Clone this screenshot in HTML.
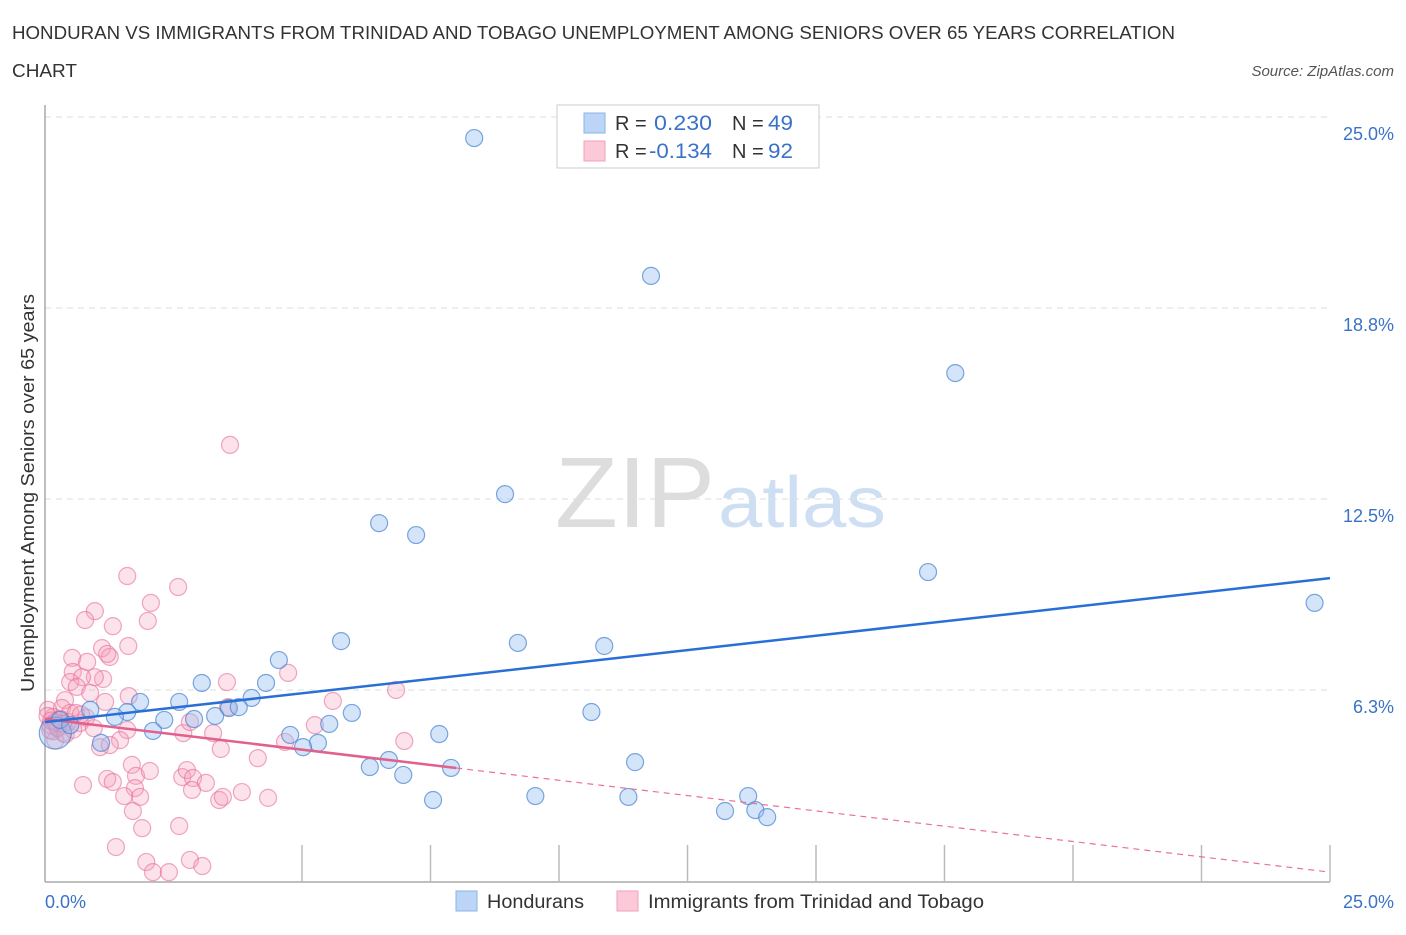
<!DOCTYPE html>
<html><head><meta charset="utf-8">
<style>
body{margin:0;background:#fff;font-family:"Liberation Sans",sans-serif;}
svg text{font-family:"Liberation Sans",sans-serif;}
</style></head>
<body>
<svg id="chart" width="1406" height="930" xmlns="http://www.w3.org/2000/svg">
<text x="12" y="39" font-size="18.5" fill="#333" textLength="1163" lengthAdjust="spacingAndGlyphs">HONDURAN VS IMMIGRANTS FROM TRINIDAD AND TOBAGO UNEMPLOYMENT AMONG SENIORS OVER 65 YEARS CORRELATION</text>
<text x="12" y="77" font-size="18.5" fill="#333" textLength="65" lengthAdjust="spacingAndGlyphs">CHART</text>
<text x="1394" y="76" font-size="15" fill="#555" text-anchor="end" font-style="italic">Source: ZipAtlas.com</text>
<g>
<text x="635" y="527" font-size="100" fill="#ddd" font-family="Liberation Serif" text-anchor="middle" textLength="160" lengthAdjust="spacingAndGlyphs">ZIP</text>
<text x="802" y="527" font-size="72" fill="#cfdff3" text-anchor="middle" textLength="168" lengthAdjust="spacingAndGlyphs">atlas</text>
</g>
<g id="grid"></g>
<g id="axes"></g>
<g id="marks"></g>
<text transform="translate(34,493) rotate(-90)" font-size="18" fill="#333" text-anchor="middle" textLength="398" lengthAdjust="spacingAndGlyphs">Unemployment Among Seniors over 65 years</text>
<text x="45" y="908" font-size="18" fill="#3a72c9">0.0%</text>
<text x="1394" y="908" font-size="18" fill="#3a72c9" text-anchor="end">25.0%</text>
<g>
<rect x="557" y="105" width="262" height="63" fill="#fff" stroke="#ccc"/>
<rect x="584" y="113" width="21" height="20" fill="#bcd5f7" stroke="#8ab3ea"/>
<rect x="584" y="141" width="21" height="20" fill="#fcc9d8" stroke="#f2a0bb"/>
<text x="615" y="130" font-size="20" fill="#333">R =</text>
<text x="654" y="130" font-size="21" fill="#3a72c9" textLength="58" lengthAdjust="spacingAndGlyphs">0.230</text>
<text x="732" y="130" font-size="20" fill="#333">N =</text>
<text x="768" y="130" font-size="21" fill="#3a72c9" textLength="25" lengthAdjust="spacingAndGlyphs">49</text>
<text x="615" y="158" font-size="20" fill="#333">R =</text>
<text x="649" y="158" font-size="21" fill="#3a72c9" textLength="63" lengthAdjust="spacingAndGlyphs">-0.134</text>
<text x="732" y="158" font-size="20" fill="#333">N =</text>
<text x="768" y="158" font-size="21" fill="#3a72c9" textLength="25" lengthAdjust="spacingAndGlyphs">92</text>
</g>
<g>
<rect x="456" y="891" width="21" height="20" fill="#bcd5f7" stroke="#8ab3ea"/>
<text x="487" y="908" font-size="19" fill="#333" textLength="97" lengthAdjust="spacingAndGlyphs">Hondurans</text>
<rect x="617" y="891" width="21" height="20" fill="#fcc9d8" stroke="#f2a0bb"/>
<text x="648" y="908" font-size="19" fill="#333" textLength="336" lengthAdjust="spacingAndGlyphs">Immigrants from Trinidad and Tobago</text>
</g>
</svg>
<script>
const yTicks=[6.25,12.5,18.75,25];
const yTickLabels=["6.3%","12.5%","18.8%","25.0%"];
const xTicks=[5,7.5,10,12.5,15,17.5,20,22.5,25];
const blueX=[8.35,11.79,17.71,8.95,6.50,7.22,17.18,24.70,5.76,9.20,10.88,4.55,3.05,4.30,1.85,2.61,4.02,3.58,3.77,1.60,5.97,10.63,3.31,2.90,2.32,1.36,0.88,5.53,2.10,4.77,7.67,5.31,5.02,1.09,6.69,11.48,6.32,7.90,6.97,7.55,9.54,11.35,13.68,13.23,13.82,14.05,0.2,0.29,0.49];
const blueY=[24.31,19.80,16.62,12.66,11.71,11.32,10.11,9.10,7.85,7.79,7.69,7.23,6.48,6.48,5.86,5.86,5.99,5.66,5.69,5.53,5.50,5.53,5.40,5.30,5.27,5.37,5.60,5.14,4.91,4.78,4.81,4.52,4.38,4.52,3.96,3.89,3.73,3.70,3.47,2.65,2.78,2.75,2.78,2.29,2.32,2.09,4.84,5.27,5.10];
const pinkX=[1.60,2.59,2.06,0.97,0.78,1.32,2.00,1.62,1.11,1.26,0.53,0.82,1.21,3.60,4.73,3.54,6.83,5.60,0.54,1.13,0.97,0.72,0.49,0.62,0.88,1.63,1.17,0.39,0.33,0.16,0.49,0.68,0.1,0.25,0.35,1.60,1.46,1.07,1.26,3.56,2.69,3.27,2.82,5.25,4.67,6.99,3.42,4.14,0.74,1.21,1.32,1.69,1.77,2.04,1.75,1.85,1.54,1.71,1.89,1.38,2.67,2.76,2.88,3.13,2.86,3.39,3.46,3.83,4.34,2.61,1.97,2.10,2.41,2.82,3.06,0.1,0.2,0.06,0.3,0.15,0.45,0.05,0.25,0.6,0.4,0.12,0.8,0.55,0.35,0.7,0.95,0.2];
const pinkY=[9.98,9.62,9.10,8.83,8.54,8.34,8.51,7.69,7.62,7.33,7.30,7.17,7.43,14.27,6.81,6.51,6.25,5.89,6.84,6.61,6.67,6.67,6.51,6.35,6.15,6.05,5.86,5.92,5.66,5.37,5.50,5.17,4.94,5.04,4.84,4.94,4.61,4.38,4.45,5.69,4.84,4.84,5.20,5.10,4.55,4.58,4.32,4.02,3.14,3.34,3.24,3.80,3.44,3.60,3.04,2.75,2.78,2.29,1.73,1.11,3.40,3.63,3.37,3.21,2.98,2.65,2.75,2.91,2.72,1.80,0.62,0.29,0.29,0.69,0.49,5.1,4.6,5.6,5.3,4.9,5.2,5.4,5.0,5.5,4.8,5.25,5.35,4.95,5.15,5.45,5.0,5.2];
const blueTrend=[5.20,9.91];
const pinkTrend=[5.30,0.29];
const pinkSolidEnd=8.0;

const NS="http://www.w3.org/2000/svg";
const X0=45,X1=1330,Y0=881,Y1=117;
const xs=v=>X0+(v/25)*(X1-X0);
const ys=v=>Y0-(v/25)*(Y0-Y1);
function mk(tag,attrs,parent){const e=document.createElementNS(NS,tag);for(const k in attrs)e.setAttribute(k,attrs[k]);document.getElementById(parent).appendChild(e);return e;}
yTicks.forEach((t,i)=>{
 const g=mk('line',{x1:X0,x2:X1,y1:ys(t),y2:ys(t),stroke:'#ddd','stroke-dasharray':'6,5'},'grid');
 
 
 const tx=mk('text',{x:1394,y:ys(t)+23,'font-size':18,fill:'#3a72c9','text-anchor':'end'},'grid');
 tx.textContent=yTickLabels[i];
 
 
});
const ya=mk('line',{x1:X0,x2:X0,y1:105,y2:882,stroke:'#aaa','stroke-width':1.5},'axes');


const xa=mk('line',{x1:X0,x2:X1,y1:882,y2:882,stroke:'#aaa','stroke-width':1.5},'axes');


xTicks.forEach(t=>{
 const l=mk('line',{x1:xs(t),x2:xs(t),y1:845,y2:882,stroke:'#bbb','stroke-width':1.5},'axes');
 
 
});
pinkX.forEach((v,i)=>{
 const c=mk('circle',{cx:xs(v),cy:ys(pinkY[i]),r:8.5,fill:'rgba(246,160,190,0.3)',stroke:'rgba(232,110,150,0.6)','stroke-width':1.2},'marks');
 
 
});
blueX.forEach((v,i)=>{
 const c=mk('circle',{cx:xs(v),cy:ys(blueY[i]),r:i==46?16:8.5,fill:'rgba(150,190,240,0.4)',stroke:'rgba(70,130,210,0.7)','stroke-width':1.2},'marks');
 
 
});
const pv=x=>pinkTrend[0]+(pinkTrend[1]-pinkTrend[0])*x/25;
const pd=mk('line',{x1:xs(pinkSolidEnd),y1:ys(pv(pinkSolidEnd)),x2:xs(25),y2:ys(pinkTrend[1]),stroke:'#e8719a','stroke-width':1.2,'stroke-dasharray':'6,5'},'marks');


const ps=mk('line',{x1:xs(0),y1:ys(pinkTrend[0]),x2:xs(pinkSolidEnd),y2:ys(pv(pinkSolidEnd)),stroke:'#e0608e','stroke-width':2.5},'marks');


const bl=mk('line',{x1:xs(0),y1:ys(blueTrend[0]),x2:xs(25),y2:ys(blueTrend[1]),stroke:'#2a6fd6','stroke-width':2.5},'marks');


</script>
</body></html>
